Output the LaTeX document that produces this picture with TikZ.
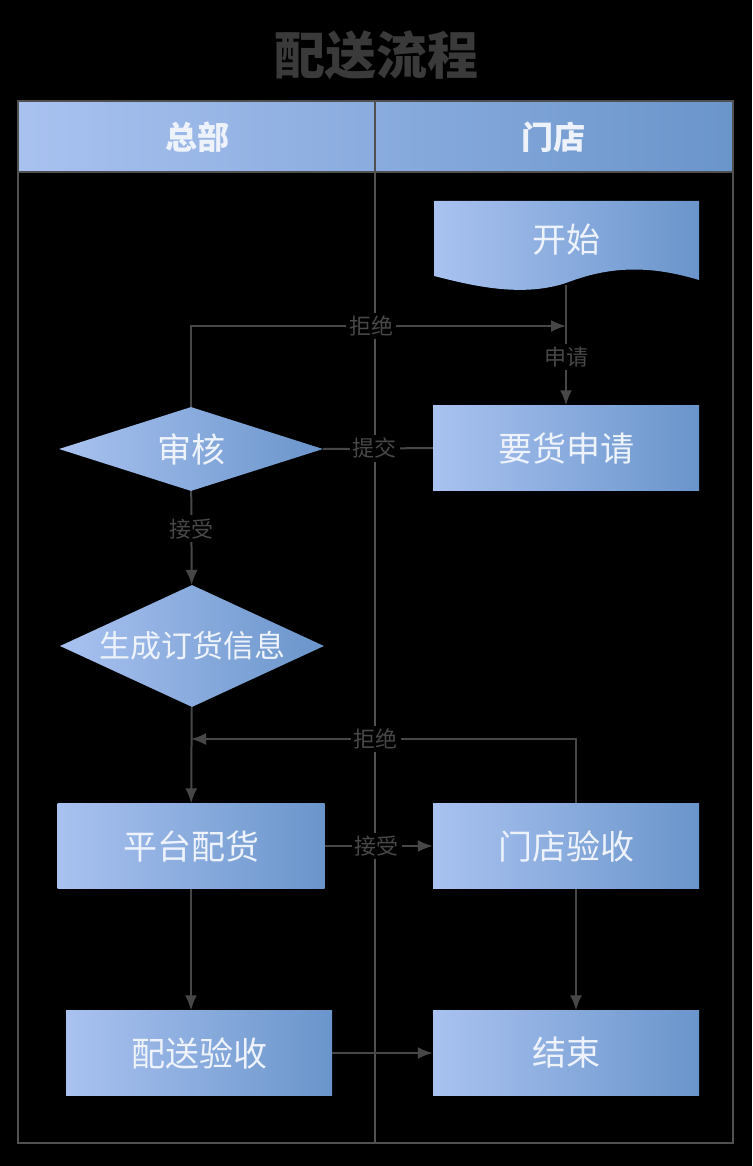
\documentclass[tikz,border=0pt]{standalone}
\usepackage{fontspec}
\setmainfont{Noto Sans CJK SC}
\usetikzlibrary{shapes.geometric,arrows.meta}

\definecolor{boxL}{HTML}{A9C2F0}
\definecolor{boxR}{HTML}{6A95CB}
\definecolor{boxText}{HTML}{EEF3FB}
\definecolor{lineGray}{HTML}{474747}
\definecolor{tagGray}{HTML}{484848}
\definecolor{titleGray}{HTML}{3A3A3A}
\definecolor{laneGray}{HTML}{505050}

\tikzset{
    box/.style={rectangle, minimum width=266, minimum height=85, inner sep=0,
        left color=boxL, right color=boxR, text=boxText,
        font=\fontsize{34}{40}\selectfont},
    decision/.style={diamond, aspect=3.1, minimum width=264, minimum height=84, inner sep=0,
        left color=boxL, right color=boxR, text=boxText,
        font=\fontsize{34}{40}\selectfont},
    head/.style={text=boxText, font=\fontsize{32}{38}\selectfont\bfseries},
    tag/.style={fill=black, text=tagGray, inner sep=3pt,
        font=\fontsize{22}{26}\selectfont},
    flow/.style={draw=lineGray, line width=2pt, ->},
    link/.style={draw=lineGray, line width=2pt},
    lane/.style={draw=laneGray, line width=2pt}
}

\begin{document}
\begin{tikzpicture}[
    x=1pt, y=-1pt,
    >={Latex[length=15pt,width=12pt]}
]

    % Background
    \fill[black] (0,0) rectangle (752,1166);

    % Title
    \node[text=titleGray, font=\fontsize{51}{56}\selectfont\bfseries] (title) at (376,55) {配送流程};

    % Swimlanes
    \shade[left color=boxL, right color=boxR] (18,101) rectangle (733,172);
    \draw[lane] (18,101) rectangle (733,1143);
    \draw[lane] (18,172) -- (733,172);
    \draw[lane] (375,101) -- (375,1143);
    \node[head] (hq) at (197,137) {总部};
    \node[head] (shop) at (553,137) {门店};

    % Start (document shape)
    \shade[left color=boxL, right color=boxR] (434,201) -- (699,201) -- (699,280)
        .. controls (640,262) and (600,270) .. (566,283)
        .. controls (520,298) and (470,285) .. (434,276) -- cycle;
    \node[text=boxText, font=\fontsize{34}{40}\selectfont] (start) at (566,240) {开始};
    \coordinate (startEnd) at (566,285);

    % Steps
    \node[box] (apply) at (566,448) {要货申请};
    \node[decision] (audit) at (191,449) {审核};
    \node[decision, aspect=2.1, minimum height=122, font=\fontsize{31}{36}\selectfont] (info) at (192,646) {生成订货信息};
    \node[box, minimum width=267] (platform) at (191,846) {平台配货};
    \node[box] (check) at (566,846) {门店验收};
    \node[box] (delivery) at (199,1053) {配送验收};
    \node[box] (finish) at (566,1053) {结束};

    \coordinate (reject1) at (566,326);
    \coordinate (reject2) at (191,739);

    % Connectors
    \draw[flow] (startEnd) -- node[tag, pos=0.6] {申请} (apply);
    \draw[flow] (audit.north) |- node[tag, pos=0.74] {拒绝} (reject1);
    \draw[link] (apply.west) -- node[tag, pos=0.53] {提交} (audit.east);
    \draw[flow] (audit) -- node[tag, pos=0.4] {接受} (info);
    \draw[flow] (info) -- (platform);
    \draw[flow] ([xshift=10pt]check.north) |- node[tag, pos=0.76] {拒绝} (reject2);
    \draw[flow] (platform) -- node[tag, pos=0.48] {接受} (check);
    \draw[flow] (platform.south) -- (platform.south |- delivery.north);
    \draw[flow] ([xshift=10pt]check.south) -- ([xshift=10pt]check.south |- finish.north);
    \draw[flow] (delivery) -- (finish);

\end{tikzpicture}
\end{document}
